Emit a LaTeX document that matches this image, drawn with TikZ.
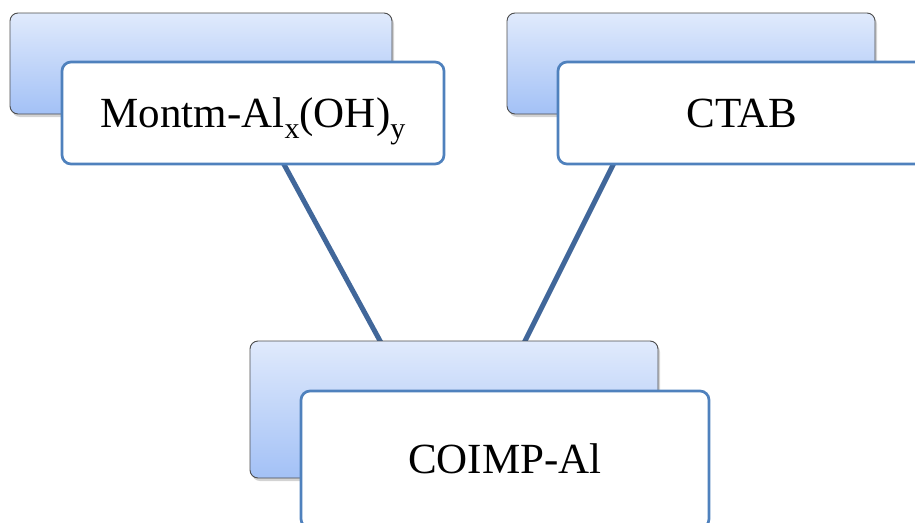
\documentclass[tikz,border=0pt]{standalone}
\usepackage{fontspec}
\setmainfont{Liberation Serif}
\usetikzlibrary{shadows}
\definecolor{linkblue}{HTML}{41679A}
\definecolor{frameblue}{HTML}{4F81BD}
\definecolor{topfill}{HTML}{E0EAFC}
\definecolor{botfill}{HTML}{A3C1F6}
\newcommand{\lowsub}[1]{\raisebox{-11pt}{\fontsize{30}{32}\selectfont #1}}
\begin{document}
\begin{tikzpicture}[x=1pt,y=-1pt,
  backbox/.style={draw=black!70, line width=0.9pt, rounded corners=8pt,
    top color=topfill, bottom color=botfill, inner sep=0pt,
    drop shadow={shadow xshift=2pt, shadow yshift=-3pt, opacity=0.35}},
  frontbox/.style={draw=frameblue, line width=2.7pt, rounded corners=9pt,
    fill=white, inner sep=0pt, font=\fontsize{43}{50}\selectfont,
    text height=28pt, text depth=0pt},
  link/.style={draw=linkblue, line width=5pt}]
  \useasboundingbox (0,0) rectangle (915,522);
  \clip (0,0) rectangle (915,522);

  % connector end points (hidden ends lie under the boxes)
  \coordinate (lt) at (256,113);
  \coordinate (lb) at (385,350);
  \coordinate (rt) at (639,113);
  \coordinate (rb) at (520.5,350);
  \draw[link] (lt) -- (lb);
  \draw[link] (rt) -- (rb);

  % upper left pair
  \node[backbox, minimum width=382pt, minimum height=101pt] (b1) at (201,63.5) {};
  \node[frontbox, minimum width=382pt, minimum height=102pt] (f1) at (253,113)
    {Montm-Al\lowsub{x}(OH)\lowsub{y}};

  % upper right pair
  \node[backbox, minimum width=368pt, minimum height=101pt] (b2) at (691,63.5) {};
  \node[frontbox, minimum width=368pt, minimum height=102pt] (f2) at (742,113) {CTAB};

  % lower pair
  \node[backbox, minimum width=408pt, minimum height=137pt] (b3) at (454,409.5) {};
  \node[frontbox, minimum width=408pt, minimum height=137pt] (f3) at (505,459.5) {COIMP-Al};
\end{tikzpicture}
\end{document}
